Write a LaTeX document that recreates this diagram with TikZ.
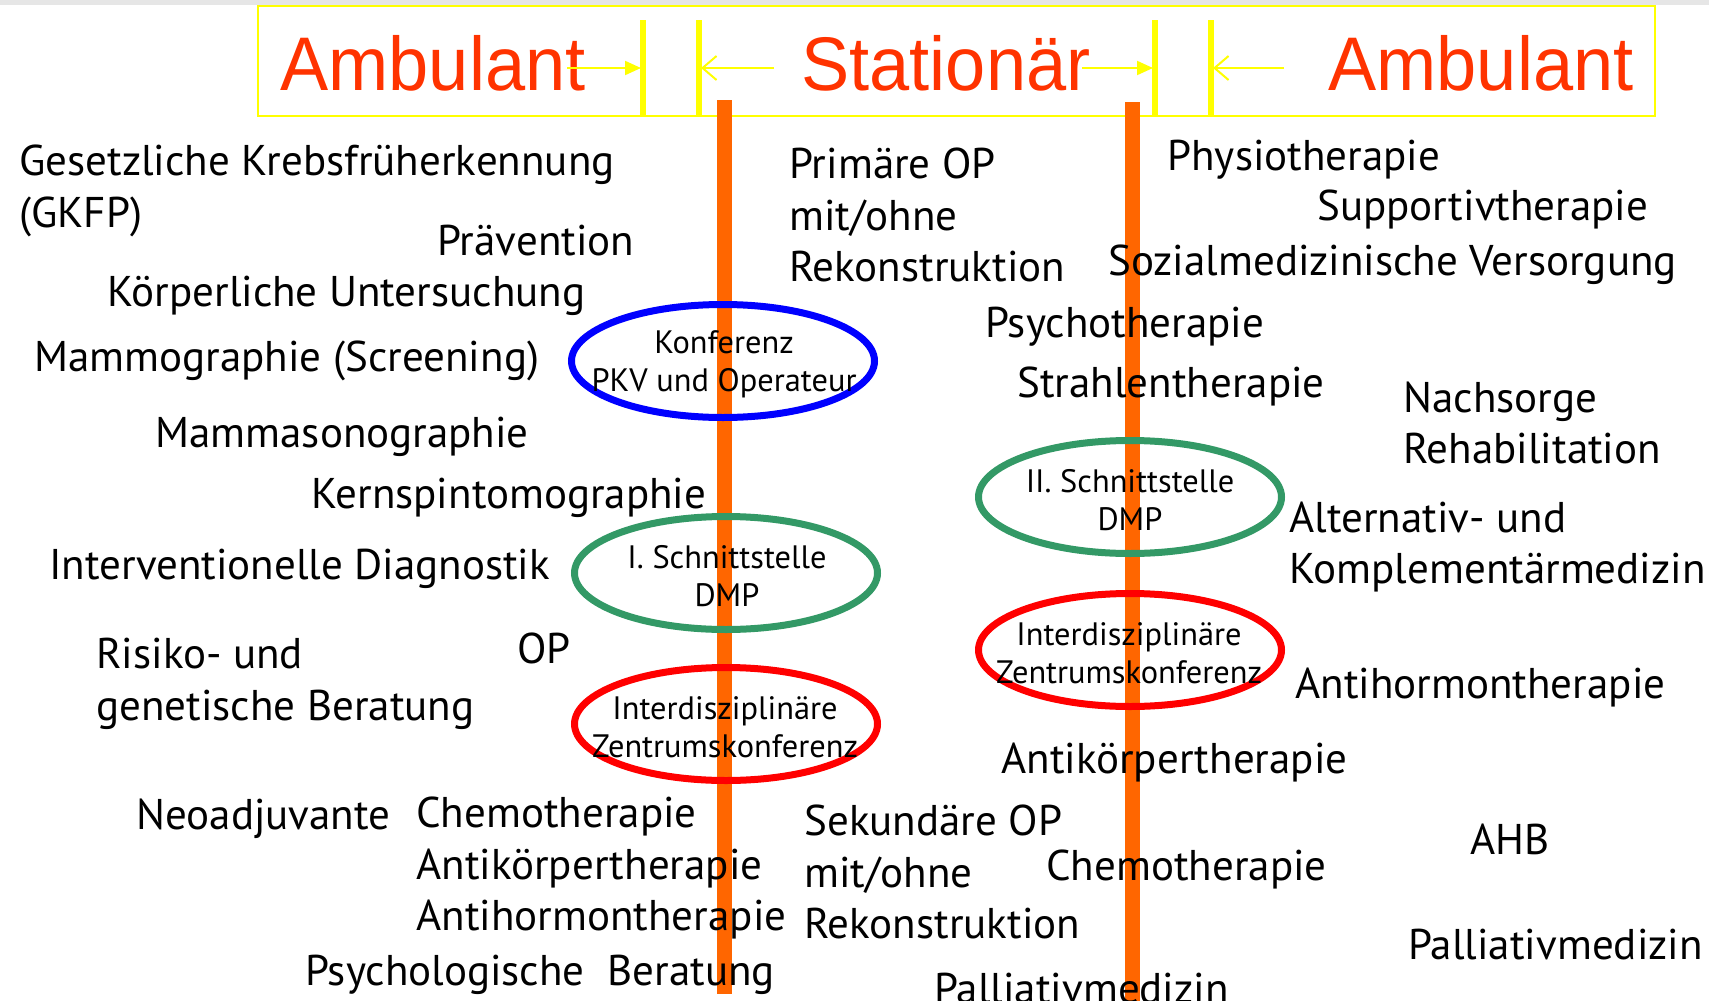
\documentclass[tikz,border=0pt]{standalone}
\usepackage{fontspec}
\setmainfont{PT Sans}
\newfontfamily\headfont[FakeStretch=0.95]{Liberation Sans}
\usepackage{tikz}
\usetikzlibrary{arrows.meta, shapes.geometric}
\definecolor{kbred}{RGB}{255,51,0}
\definecolor{kborange}{RGB}{255,102,0}
\definecolor{kbyellow}{RGB}{255,255,0}
\definecolor{kbblue}{RGB}{0,0,255}
\definecolor{kbgreen}{RGB}{51,153,102}
\definecolor{kbring}{RGB}{255,0,0}
\definecolor{kbgray}{RGB}{230,230,230}

\begin{document}
\begin{tikzpicture}[
    x=0.5pt,
    y=-0.5pt,
    item/.style={anchor=west, inner sep=0pt, align=left, font=\fontsize{21.5}{25.8}\selectfont},
    head/.style={inner sep=0pt, text=kbred, font=\headfont\fontsize{38}{40}\selectfont},
    ring/.style={ellipse, line width=3.5pt, minimum width=151.5pt, minimum height=56.5pt, inner sep=0pt},
    ringtext/.style={inner sep=0pt, align=center, font=\fontsize{16.2}{19}\selectfont},
    track/.style={draw=kborange, line width=7.5pt},
    bar/.style={draw=kbyellow, line width=3pt},
    toright/.style={draw=kbyellow, line width=1pt, -{Triangle[length=8pt, width=7pt]}},
    toleft/.style={draw=kbyellow, line width=1pt, -{Straight Barb[length=7pt, width=12pt]}}
]
\useasboundingbox (0,0) rectangle (1709,1001);
\fill[kbgray] (0,0) rectangle (1709,5);

% header
\draw[kbyellow, line width=1pt] (258,6) rectangle (1655,116);
\draw[bar] (643,20) -- (643,115);
\draw[bar] (699,20) -- (699,115);
\draw[bar] (1155,20) -- (1155,115);
\draw[bar] (1211,20) -- (1211,115);
\node[head] (ambleft) at (433,63) {Ambulant};
\node[head] (station) at (946,63) {Stationär};
\node[head] (ambright) at (1481,63) {Ambulant};
\coordinate (barA) at (641,68);
\coordinate (barB) at (701,68);
\coordinate (barC) at (1153,68);
\coordinate (barD) at (1213,68);
\draw[toright] (567,68) -- (barA);
\draw[toleft] (774,68) -- (barB);
\draw[toright] (1082,68) -- (barC);
\draw[toleft] (1284,68) -- (barD);

% tracks
\coordinate (trackAtop) at (724,100);
\coordinate (trackAbot) at (724,994);
\coordinate (trackBtop) at (1132,102);
\coordinate (trackBbot) at (1132,1001);
\draw[track] (trackAtop) -- (trackAbot);
\draw[track] (trackBtop) -- (trackBbot);

% left: ambulant
\node[item] (gkfp) at (19,191) {Gesetzliche Krebsfrüherkennung\\(GKFP)};
\node[item] (praev) at (437,241) {Prävention};
\node[item] (koerper) at (107,296) {Körperliche Untersuchung};
\node[item] (mammo) at (34,361) {Mammographie (Screening)};
\node[item] (sono) at (155,437) {Mammasonographie};
\node[item] (mrt) at (311,498) {Kernspintomographie};
\node[item] (interv) at (49,569) {Interventionelle Diagnostik};
\node[item] (risiko) at (96,684) {Risiko- und\\genetische Beratung};
\node[item] (opleft) at (517,648) {OP};
\node[item] (neoadj) at (136,819) {Neoadjuvante};
\node[item] (neotherapy) at (416,868) {Chemotherapie\\Antikörpertherapie\\Antihormontherapie};
\node[item] (psychber) at (305,975) {Psychologische~ Beratung};

% middle: stationaer
\node[item] (primop) at (789,215) {Primäre OP\\mit/ohne\\Rekonstruktion};
\node[item] (psychoth) at (985,327) {Psychotherapie};
\node[item] (strahl) at (1017,386) {Strahlentherapie};
\node[item] (antikmid) at (1001,763) {Antikörpertherapie};
\node[item] (sekop) at (804,872) {Sekundäre OP\\mit/ohne\\Rekonstruktion};
\node[item] (chemomid) at (1046,869) {Chemotherapie};
\node[item] (pallmid) at (934,989) {Palliativmedizin};

% right: ambulant
\node[item] (physio) at (1167,160) {Physiotherapie};
\node[item] (support) at (1317,209) {Supportivtherapie};
\node[item] (sozial) at (1108,265) {Sozialmedizinische Versorgung};
\node[item] (nachsorge) at (1403,423) {Nachsorge\\Rehabilitation};
\node[item] (alternativ) at (1289,547) {Alternativ- und\\Komplementärmedizin};
\node[item] (antihright) at (1295,688) {Antihormontherapie};
\node[item] (ahb) at (1470,839) {AHB};
\node[item] (pallright) at (1408,945) {Palliativmedizin};

% conferences and interfaces
\node[ring, draw=kbblue] (konf) at (723,361) {};
\node[ringtext] (konftext) at (724,364) {Konferenz\\PKV und Operateur};
\node[ring, draw=kbgreen] (dmpone) at (726,573) {};
\node[ringtext] (dmponetext) at (727,576) {I. Schnittstelle\\DMP};
\node[ring, draw=kbring] (zentrone) at (726,724) {};
\node[ringtext] (zentronetext) at (725,727) {Interdisziplinäre\\Zentrumskonferenz};
\node[ring, draw=kbgreen] (dmptwo) at (1130,497) {};
\node[ringtext] (dmptwotext) at (1130,500) {II. Schnittstelle\\DMP};
\node[ring, draw=kbring] (zentrtwo) at (1130,650) {};
\node[ringtext] (zentrtwotext) at (1129,653) {Interdisziplinäre\\Zentrumskonferenz};
\end{tikzpicture}
\end{document}
